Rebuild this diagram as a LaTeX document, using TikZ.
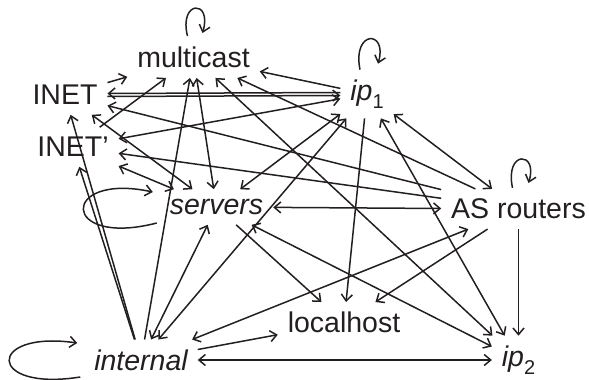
\documentclass[tikz,border=0pt]{standalone}
\usepackage{fontspec}
\setmainfont{Liberation Sans}
\usetikzlibrary{arrows.meta,calc}
\definecolor{ink}{RGB}{35,31,32}
\begin{document}
\begin{tikzpicture}[x=1pt,y=-1pt,
  >={Straight Barb[length=6.5pt,width=11pt]},
  lbl/.style={font=\fontsize{28.5}{30}\selectfont, inner sep=10pt, outer sep=0pt, text=ink},
  edge/.style={line width=1.5pt, draw=ink}]
\useasboundingbox (0,0) rectangle (589,380);
\newcommand{\subnum}[1]{\raisebox{-8pt}{\upshape\fontsize{20}{20}\selectfont #1}}
% nodes
\node[lbl] (mc)    at (193.5,57.5) {multicast};
\node[lbl] (inet)  at (65,95)      {INET};
\node[lbl] (inetp) at (73,147)     {INET’};
\node[lbl] (ipa)   at (367,94)     {\itshape ip\/\subnum{1}};
\node[lbl] (srv)   at (216.5,207)  {\itshape servers};
\node[lbl] (asr)   at (518.5,209)  {AS routers};
\node[lbl] (lh)    at (344,322.5)  {localhost};
\node[lbl] (int)   at (141,360)    {\itshape internal};
\node[lbl] (ipb)   at (518.5,360)  {\itshape ip\/\subnum{2}};
% self loops
\draw[edge,->] ($(mc.north)+(-6,-1)$) .. controls +(-9,-36) and +(10,-34) .. ($(mc.north)+(9,-4)$);
\draw[edge,->] ($(ipa.north)+(-7,0)$) .. controls +(-8,-40) and +(10,-34) .. ($(ipa.north)+(11,-6)$);
\draw[edge,->] ($(asr.north)+(-6,-1)$) .. controls +(-8,-38) and +(10,-32) .. ($(asr.north)+(10,-6)$);
\draw[edge,->] ($(srv.west)+(-3,16)$) .. controls +(-97,25) and +(-93,-20) .. ($(srv.west)+(-7,-15)$);
\draw[edge,->] ($(int.west)+(-4,17)$) .. controls +(-94,15) and +(-91,-13) .. ($(int.west)+(-7,-17)$);
% edges to multicast
\draw[edge,->] (inet) -- (mc);
\draw[edge,->] (inetp) -- (mc);
\draw[edge,->] (int) -- (mc);
\draw[edge,<->] (mc) -- (srv);
\draw[edge,<->] (mc) -- (ipb);
\draw[edge,->] (asr) -- (mc);
\draw[edge,->] (ipa) -- (mc);
% INET / INET'
\draw[edge,->] ([yshift=1.5pt]ipa.west) -- ([yshift=1.5pt]inet.east);
\draw[edge,->] ([yshift=-1.5pt]inet.east) -- ([yshift=-1.5pt]ipa.west);
\draw[edge,<->] (inetp) -- (ipa);
\draw[edge,->] (asr) -- (inet);
\draw[edge,->] (asr) -- (inetp);
\draw[edge,<->] (inet) -- (srv);
\draw[edge,<->] (inetp) -- (srv);
\draw[edge,->] (int) -- (inet);
\draw[edge,->] (int) -- (inetp);
% ip1
\draw[edge,<->] (srv) -- (ipa);
\draw[edge,<->] (int) -- (ipa);
\draw[edge,->] (ipa) -- (lh);
\draw[edge,<->] (ipa) -- (asr);
\draw[edge,<->] (ipa) -- (ipb);
% servers
\draw[edge,<->] (srv) -- (asr);
\draw[edge,->] (srv) -- (lh);
\draw[edge,<->] (srv) -- (ipb);
\draw[edge,<->] (int) -- (srv);
% internal
\draw[edge,<->] (int) -- (asr);
\draw[edge,->] (int) -- (lh);
\draw[edge,<->] (int) -- (ipb);
% AS routers
\draw[edge,->] (asr) -- (lh);
\draw[edge,->] (asr) -- (ipb);
\end{tikzpicture}
\end{document}
